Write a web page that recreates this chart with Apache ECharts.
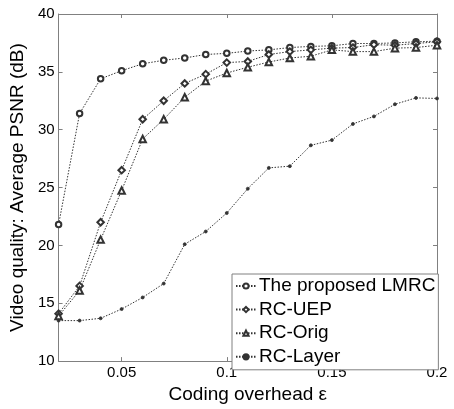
<!DOCTYPE html>
<html>
<head>
<meta charset="utf-8">
<script src="https://cdn.jsdelivr.net/npm/echarts@6/dist/echarts.min.js"></script>
<style>
html,body{margin:0;padding:0;background:#fff;}
#c{width:454px;height:409px;}
</style>
</head>
<body>
<div id="c"></div>
<script>
const overhead = [0.02,0.03,0.04,0.05,0.06,0.07,0.08,0.09,0.10,0.11,0.12,0.13,0.14,0.15,0.16,0.17,0.18,0.19,0.20];
const lmrc  = [21.8,31.4,34.4,35.1,35.7,36.0,36.2,36.5,36.6,36.8,36.9,37.1,37.2,37.25,37.45,37.45,37.5,37.6,37.65];
const rcUep = [14.1,16.5,22.0,26.5,30.9,32.5,34.0,34.8,35.8,35.9,36.5,36.75,36.9,37.05,37.1,37.35,37.3,37.45,37.6];
const rcOrig= [13.9,16.1,20.5,24.75,29.2,30.9,32.8,34.2,34.9,35.4,35.85,36.2,36.35,36.9,36.75,36.75,37.05,37.1,37.3];
const rcLayer=[13.5,13.5,13.7,14.5,15.5,16.7,20.1,21.2,22.8,24.9,26.7,26.85,28.65,29.1,30.5,31.15,32.2,32.75,32.7];
const seriesNames = ['The proposed LMRC','RC-UEP','RC-Orig','RC-Layer'];
const xTicks = [0.05,0.1,0.15,0.2];

const FONT = 'Liberation Sans';
const AX = '#808080';
const LINE = '#333';

function pairs(ys){ return overhead.map((x,i)=>[x,ys[i]]); }
function mk(name, ys, symbol, size){
  return {
    name, type:'line', data: pairs(ys), symbol, symbolSize:size,
    lineStyle:{color:LINE, width:1, type:[1.5,1.5]},
    itemStyle:{color:LINE, borderColor:LINE, borderWidth:0.8},
    animation:false
  };
}

const chart = echarts.init(document.getElementById('c'), null, {renderer:'canvas'});
chart.setOption({
  backgroundColor:'#fff',
  animation:false,
  textStyle:{fontFamily:FONT},
  grid:{left:57, right:17, top:14, bottom:39, containLabel:false},
  xAxis:[{
    type:'value', min:0.02, max:0.2,
    name:'Coding overhead ε', nameLocation:'middle', nameGap:17,
    nameTextStyle:{fontSize:19, color:'#000', fontFamily:FONT},
    axisLine:{lineStyle:{color:AX}},
    axisTick:{inside:true, length:4, lineStyle:{color:AX}, customValues:xTicks},
    axisLabel:{fontSize:15, color:'#000', fontFamily:FONT, margin:4, customValues:xTicks},
    splitLine:{show:false}
  },{
    type:'value', min:0.02, max:0.2, position:'top',
    axisLine:{lineStyle:{color:AX}},
    axisTick:{inside:true, length:4, lineStyle:{color:AX}, customValues:xTicks},
    axisLabel:{show:false}, splitLine:{show:false}
  }],
  yAxis:[{
    type:'value', min:10, max:40, interval:5,
    name:'Video quality: Average PSNR (dB)', nameLocation:'middle', nameGap:23,
    nameTextStyle:{fontSize:19, color:'#000', fontFamily:FONT},
    axisLine:{show:true, lineStyle:{color:AX}},
    axisTick:{show:true, inside:true, length:4, lineStyle:{color:AX}},
    axisLabel:{fontSize:15, color:'#000', fontFamily:FONT, margin:4},
    splitLine:{show:false}
  },{
    type:'value', min:10, max:40, interval:5, position:'right',
    axisLine:{show:true, lineStyle:{color:AX}},
    axisTick:{show:true, inside:true, length:4, lineStyle:{color:AX}},
    axisLabel:{show:false}, splitLine:{show:false}
  }],
  legend:{
    orient:'vertical', left:232, top:274, width:203,
    padding:[2,3,3,3], itemGap:3.6, itemWidth:20, itemHeight:6.5,
    borderColor:AX, borderWidth:1, backgroundColor:'#fff',
    textStyle:{fontSize:19, lineHeight:20, color:'#000', fontFamily:FONT, padding:[0,0,0,-2]},
    data: seriesNames
  },
  series:[
    mk(seriesNames[0], lmrc, 'emptyCircle', 5.5),
    mk(seriesNames[1], rcUep, 'emptyDiamond', 6.5),
    mk(seriesNames[2], rcOrig, 'emptyTriangle', 6.5),
    mk(seriesNames[3], rcLayer, 'circle', 3)
  ]
});
</script>
</body>
</html>
